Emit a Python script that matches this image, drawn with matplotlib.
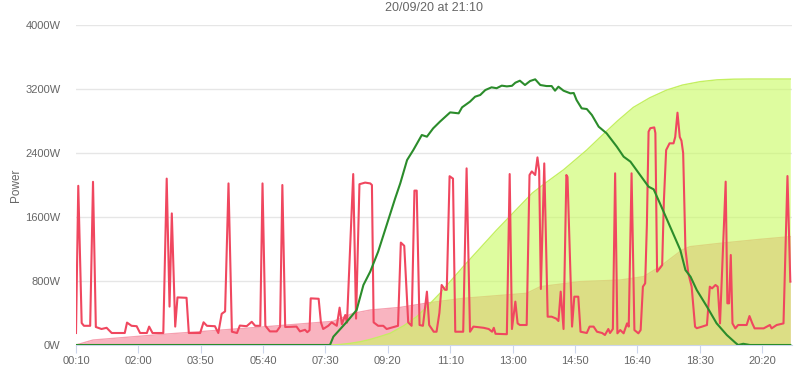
import matplotlib
matplotlib.use("Agg")
import matplotlib.pyplot as plt
from matplotlib.ticker import FixedLocator, FuncFormatter

plt.rcParams['font.family'] = ['Liberation Sans', 'DejaVu Sans']

# consumption (W), times in minutes since midnight
cons_t = [10, 14, 20, 24, 35, 40, 45, 55, 64, 73, 96, 100, 108, 117, 123, 135, 139, 145,
          164, 170, 175, 179, 185, 189, 205, 209, 229, 235, 241, 255, 261, 267, 273, 279,
          285, 294, 299, 311, 320, 326, 335, 339, 344, 352, 364, 370, 374, 379, 399, 405,
          414, 418, 422, 424, 438, 442, 446, 455, 461, 470, 475, 479, 485, 488, 499, 504,
          510, 520, 529, 532, 535, 543, 552, 558, 578, 583, 589, 596, 602, 607, 611, 616,
          622, 629, 633, 641, 646, 651, 655, 661, 664, 669, 675, 679, 693, 699, 705, 711,
          729, 738, 744, 747, 750, 770, 775, 779, 785, 789, 793, 805, 810, 814, 820, 824,
          827, 830, 836, 842, 849, 857, 861, 865, 870, 875, 877, 885, 889, 896, 900, 911,
          916, 923, 929, 938, 943, 949, 952, 957, 961, 965, 970, 976, 982, 985, 990, 995,
          1002, 1006, 1010, 1014, 1017, 1020, 1023, 1030, 1032, 1035, 1041, 1044, 1047,
          1051, 1057, 1064, 1067, 1071, 1075, 1078, 1081, 1085, 1090, 1096, 1102, 1105,
          1114, 1123, 1128, 1132, 1138, 1142, 1146, 1156, 1159, 1162, 1165, 1168, 1173,
          1178, 1193, 1198, 1203, 1207, 1223, 1234, 1237, 1246, 1258, 1265, 1270]
cons_w = [150, 1990, 275, 240, 240, 2040, 225, 200, 215, 150, 150, 280, 240, 235, 150, 150, 230, 150,
          150, 2080, 480, 1645, 230, 595, 590, 150, 150, 284, 240, 235, 150, 390, 420, 2020,
          166, 150, 243, 235, 290, 240, 240, 2020, 240, 170, 170, 230, 2000, 225, 230, 170,
          190, 160, 185, 583, 578, 283, 200, 240, 283, 240, 467, 260, 375, 280, 2137, 330,
          2010, 2030, 2020, 2000, 283, 240, 240, 200, 240, 1280, 1240, 283, 240, 1930, 1930, 250,
          240, 667, 250, 166, 166, 400, 750, 690, 690, 2110, 2080, 166, 166, 2208, 166, 230,
          215, 200, 166, 215, 140, 135, 2137, 200, 542, 270, 250, 250, 2125, 2170, 2125, 2345,
          2180, 700, 2270, 354, 354, 330, 300, 667, 200, 2125, 2100, 230, 604, 604, 166, 150,
          230, 230, 166, 150, 125, 200, 150, 200, 2146, 146, 187, 146, 270, 230, 2146, 187,
          146, 187, 729, 771, 1500, 2667, 2710, 2720, 2650, 917, 970, 1000, 1800,
          2437, 2521, 2521, 2600, 2904, 2600, 2554, 2400, 1200, 900, 729, 229, 210,
          229, 250, 729, 708, 750, 729, 270, 2042, 521, 521, 1125, 270, 208,
          250, 250, 362, 270, 208, 208, 250, 208, 250, 270, 2112, 792]

# solar generation (W)
gen_t = [10, 458, 464, 488, 505, 517, 529, 543, 558, 573, 582, 594, 605, 620, 629, 640, 652,
         670, 685, 691, 705, 714, 723, 732, 743, 752, 761, 770, 779, 785, 793, 802, 811, 820,
         829, 840, 849, 855, 861, 870, 882, 888, 893, 902, 911, 920, 932, 946, 964, 976, 988,
         1005, 1020, 1029, 1040, 1058, 1076, 1085, 1094, 1105, 1123, 1140, 1158, 1173, 1178,
         1187, 1199, 1270]
gen_w = [0, 0, 104, 292, 437, 750, 917, 1167, 1500, 1833, 2021, 2312, 2437, 2625, 2604, 2708, 2792,
         2908, 2896, 2971, 3042, 3104, 3125, 3187, 3221, 3210, 3242, 3233, 3240, 3279, 3304, 3250, 3300, 3321,
         3250, 3237, 3237, 3179, 3229, 3179, 3146, 3150, 3062, 2958, 2950, 2875, 2729, 2646, 2479, 2354, 2292,
         2125, 1979, 1946, 1771, 1479, 1187, 937, 854, 687, 479, 271, 125, 29, 0,
         15, 0, 0]

# cumulative consumption (scaled)
cons_cum_t = [10, 40, 170, 229, 346, 464, 499, 529, 582, 635, 693, 805, 829, 899, 970, 1011,
              1040, 1079, 1093, 1146, 1217, 1270]
cons_cum_w = [0, 62, 137, 167, 229, 296, 396, 437, 470, 530, 583, 646, 729, 792, 812, 854,
              979, 1187, 1229, 1271, 1321, 1354]

# cumulative generation (scaled)
gen_cum_t = [10, 458, 475, 493, 511, 529, 546, 564, 588, 611, 635, 652, 693, 752, 815, 841,
             870, 911, 935, 965, 993, 1022, 1052, 1080, 1111, 1141, 1170, 1200, 1270]
gen_cum_w = [0, 0, 6, 20, 40, 70, 105, 146, 240, 354, 521, 646, 979, 1437, 1900, 2040,
             2190, 2437, 2600, 2800, 2970, 3090, 3187, 3250, 3292, 3315, 3323, 3325, 3325]

tick_minutes = [10, 120, 230, 340, 450, 560, 670, 780, 890, 1000, 1110, 1220]
y_ticks = [0, 800, 1600, 2400, 3200, 4000]

fig = plt.figure(figsize=(8, 3.75), dpi=100)
ax = fig.add_axes([0.095, 0.08, 0.895, 0.8533])

ax.fill_between(cons_cum_t, cons_cum_w, color='#f9b4c0', lw=0, zorder=1)
ax.plot(cons_cum_t, cons_cum_w, color='#f6a0b0', lw=1, zorder=1.5)
ax.fill_between(gen_cum_t, gen_cum_w, color='#c9fb5f', alpha=0.6, lw=0, zorder=2)
ax.plot(gen_cum_t, gen_cum_w, color='#c4f060', lw=1, zorder=2.5)
ax.plot(cons_t, cons_w, color='#f0475f', lw=1.5, zorder=3)
ax.plot(gen_t, gen_w, color='#2b8c2b', lw=1.5, zorder=4)

ax.set_xlim(10, 1273)
ax.set_ylim(0, 4000)
ax.xaxis.set_major_locator(FixedLocator(tick_minutes))
ax.xaxis.set_major_formatter(FuncFormatter(lambda v, p: '%02d:%02d' % (int(v) // 60, int(v) % 60)))
ax.set_yticks(y_ticks)
ax.yaxis.set_major_formatter(FuncFormatter(lambda v, p: '%dW' % v))

ax.grid(axis='y', color='#e6e6e6', lw=1)
ax.set_axisbelow(True)
for s in ['top', 'right', 'left']:
    ax.spines[s].set_visible(False)
ax.spines['bottom'].set_color('#ccd6eb')
ax.tick_params(axis='x', colors='#ccd6eb', labelcolor='#666666', labelsize=8, length=6, pad=2)
ax.tick_params(axis='y', length=0, labelcolor='#666666', labelsize=8, pad=11)

ax.set_ylabel('Power', color='#666666', fontsize=8.5)
ax.yaxis.set_label_coords(-0.076, 0.5)
ax.set_title('20/09/20 at 21:10', color='#666666', fontsize=9, pad=10)

fig.savefig('out.png', dpi=100)
